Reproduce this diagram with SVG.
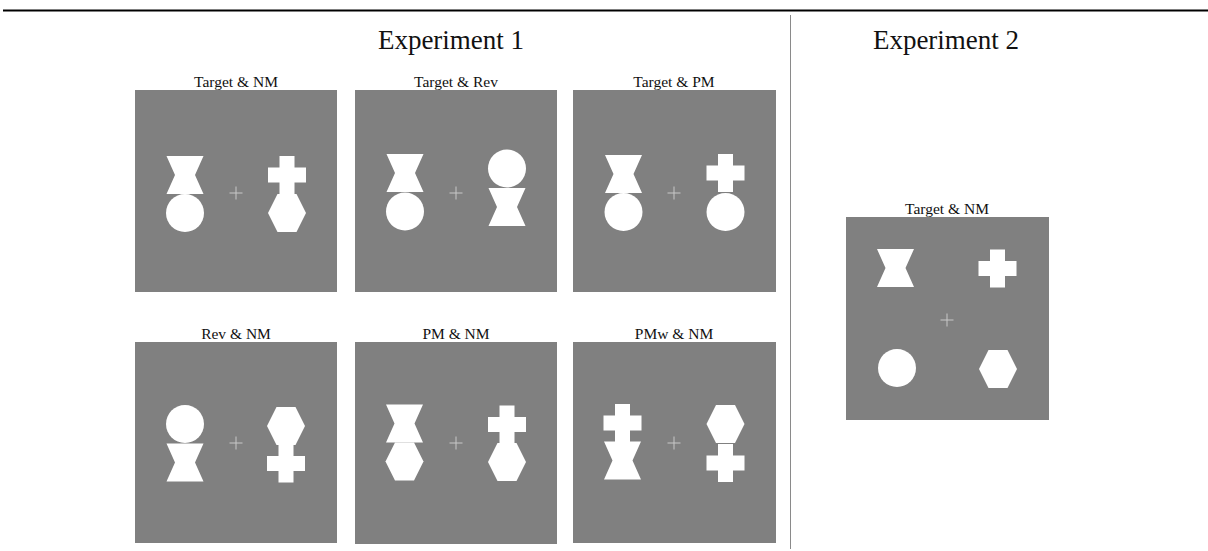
<svg xmlns="http://www.w3.org/2000/svg" xmlns:xlink="http://www.w3.org/1999/xlink" width="1208" height="551" viewBox="0 0 1208 551">
<style>
.bg{fill:#ffffff}
.panel{fill:#808080}
.sh{fill:#ffffff}
.fix{stroke:#c8c8c8;stroke-width:1;fill:none}
.title{font-family:"Liberation Serif","Times New Roman",serif;font-size:27px;fill:#111;text-anchor:middle}
.lab{font-family:"Liberation Serif","Times New Roman",serif;font-size:15.5px;fill:#111;text-anchor:middle}
</style>
<defs>
<polygon id="hg" class="sh" points="-18.5,-19 18.5,-19 10,0 18.5,19 -18.5,19 -10,0"/>
<circle id="ci" class="sh" r="19"/>
<path id="cr" class="sh" d="M-7.5,-19H7.5V-7.5H19V7.5H7.5V19H-7.5V7.5H-19V-7.5H-7.5Z"/>
<polygon id="hx" class="sh" points="-19,0 -9.5,-19 9.5,-19 19,0 9.5,19 -9.5,19"/>
<path id="fx" class="fix" d="M-6.5,0H6.5M0,-6.5V6.5"/>
</defs>
<rect class="bg" x="0" y="0" width="1208" height="551"/>
<g id="frame">
<line x1="3" y1="10.5" x2="1208" y2="10.5" stroke="#000" stroke-width="2"/>
<line x1="790.5" y1="15" x2="790.5" y2="549" stroke="#8a8a8a" stroke-width="1"/>
<text class="title" x="451" y="49">Experiment 1</text>
<text class="title" x="946" y="49">Experiment 2</text>
</g>
<g id="p1">
<text class="lab" x="236" y="87">Target &amp; NM</text>
<rect class="panel" x="135" y="90" width="202" height="202"/>
<use xlink:href="#fx" x="236" y="193"/>
<use xlink:href="#hg" x="185" y="175"/>
<use xlink:href="#ci" x="185" y="213"/>
<use xlink:href="#cr" x="287" y="175"/>
<use xlink:href="#hx" x="287" y="213"/>
</g>
<g id="p2">
<text class="lab" x="456" y="87">Target &amp; Rev</text>
<rect class="panel" x="355" y="90" width="202" height="202"/>
<use xlink:href="#fx" x="456" y="193"/>
<use xlink:href="#hg" x="405" y="173"/>
<use xlink:href="#ci" x="405" y="211.5"/>
<use xlink:href="#ci" x="507" y="168.5"/>
<use xlink:href="#hg" x="507" y="207"/>
</g>
<g id="p3">
<text class="lab" x="674" y="87">Target &amp; PM</text>
<rect class="panel" x="573" y="90" width="203" height="202"/>
<use xlink:href="#fx" x="674" y="193"/>
<use xlink:href="#hg" x="623.5" y="174"/>
<use xlink:href="#ci" x="623.5" y="212"/>
<use xlink:href="#cr" x="725.5" y="173"/>
<use xlink:href="#ci" x="725.5" y="212"/>
</g>
<g id="p4">
<text class="lab" x="236" y="339">Rev &amp; NM</text>
<rect class="panel" x="135" y="342" width="202" height="201"/>
<use xlink:href="#fx" x="236" y="443"/>
<use xlink:href="#ci" x="185" y="424"/>
<use xlink:href="#hg" x="185" y="462.5"/>
<use xlink:href="#hx" x="286" y="426"/>
<use xlink:href="#cr" x="286" y="463.5"/>
</g>
<g id="p5">
<text class="lab" x="456" y="339">PM &amp; NM</text>
<rect class="panel" x="355" y="342" width="202" height="202"/>
<use xlink:href="#fx" x="456" y="443"/>
<use xlink:href="#hg" x="404.5" y="423.5"/>
<use xlink:href="#hx" x="404.5" y="461.5"/>
<use xlink:href="#cr" x="507" y="424.5"/>
<use xlink:href="#hx" x="507" y="462"/>
</g>
<g id="p6">
<text class="lab" x="674" y="339">PMw &amp; NM</text>
<rect class="panel" x="573" y="342" width="203" height="201"/>
<use xlink:href="#fx" x="674" y="443"/>
<use xlink:href="#cr" x="622.5" y="423"/>
<use xlink:href="#hg" x="622.5" y="460.5"/>
<use xlink:href="#hx" x="725.5" y="424"/>
<use xlink:href="#cr" x="725.5" y="463"/>
</g>
<g id="p7">
<text class="lab" x="947" y="214">Target &amp; NM</text>
<rect class="panel" x="846" y="217" width="203" height="203"/>
<use xlink:href="#fx" x="947" y="320"/>
<use xlink:href="#hg" x="895.5" y="268"/>
<use xlink:href="#cr" x="997.5" y="268.5"/>
<use xlink:href="#ci" x="897" y="368"/>
<use xlink:href="#hx" x="998" y="369"/>
</g>
</svg>
